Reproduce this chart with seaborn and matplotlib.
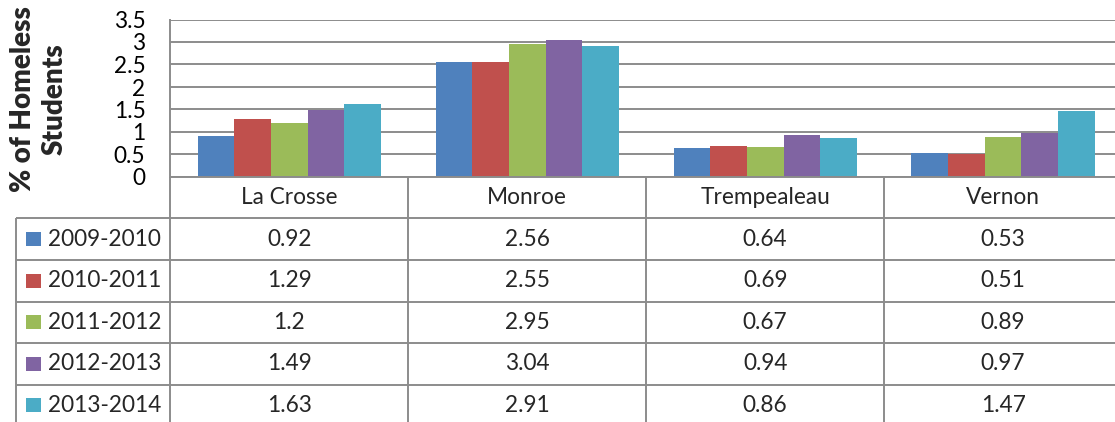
import numpy as np
import pandas as pd
import matplotlib
matplotlib.use("Agg")
import matplotlib.pyplot as plt
from matplotlib.ticker import MultipleLocator, FuncFormatter
import seaborn as sns

counties = ["La Crosse", "Monroe", "Trempealeau", "Vernon"]
years = ["2009-2010", "2010-2011", "2011-2012", "2012-2013", "2013-2014"]
pct_2009_2010 = [0.92, 2.56, 0.64, 0.53]
pct_2010_2011 = [1.29, 2.55, 0.69, 0.51]
pct_2011_2012 = [1.2, 2.95, 0.67, 0.89]
pct_2012_2013 = [1.49, 3.04, 0.94, 0.97]
pct_2013_2014 = [1.63, 2.91, 0.86, 1.47]
value_labels = [
    ["0.92", "2.56", "0.64", "0.53"],
    ["1.29", "2.55", "0.69", "0.51"],
    ["1.2", "2.95", "0.67", "0.89"],
    ["1.49", "3.04", "0.94", "0.97"],
    ["1.63", "2.91", "0.86", "1.47"],
]
colors = ["#4F81BD", "#C0504D", "#9BBB59", "#8064A2", "#4BACC6"]

series = [pct_2009_2010, pct_2010_2011, pct_2011_2012, pct_2012_2013, pct_2013_2014]
df = pd.DataFrame(
    [(c, y, v) for y, vals in zip(years, series) for c, v in zip(counties, vals)],
    columns=["County", "Year", "Pct"],
)

sns.set_theme(style="white")
plt.rcParams["font.family"] = ["Lato", "DejaVu Sans"]

W, H = 1115, 422
grid_col = "#8c8c8c"
fs = 16.3

fig = plt.figure(figsize=(W / 100, H / 100), dpi=100)

# plot area (right side runs off the picture, like the original crop)
ax = fig.add_axes([170.5 / W, (H - 177) / H, (1122 - 170.5) / W, 157.5 / H])
sns.barplot(
    data=df, x="County", y="Pct", hue="Year", order=counties, hue_order=years,
    palette=colors, saturation=1, width=0.77, gap=0, linewidth=0, legend=False, ax=ax,
)
ax.set_xlim(-0.5, 3.5)
ax.set_ylim(0, 3.5)
ax.yaxis.set_major_locator(MultipleLocator(0.5))
ax.yaxis.set_major_formatter(FuncFormatter(lambda v, p: f"{v:g}"))
ax.grid(axis="y", color=grid_col, lw=1.4)
ax.grid(axis="x", visible=False)
ax.set_axisbelow(True)
for s in ["top", "right", "bottom"]:
    ax.spines[s].set_visible(False)
ax.spines["left"].set_color(grid_col)
ax.spines["left"].set_linewidth(1.4)
ax.set_xticks([])
ax.set_xlabel("")
ax.set_ylabel("")
ax.tick_params(axis="y", length=0, pad=18, labelsize=fs, labelcolor="black")

fig.text(39 / W, 1 - 99 / H, "% of Homeless\nStudents", rotation=90,
         ha="center", va="center", ma="center", fontsize=20, fontweight="heavy",
         linespacing=1.25)

# data table underneath
x_left = -0.5 - 154.5 / 238
tax = fig.add_axes([16 / W, (H - 426) / H, (1122 - 16) / W, 249 / H])
tax.set_xlim(x_left, 3.5)
tax.set_ylim(6, 0)
tax.axis("off")

tax.hlines(0, -0.5, 3.5, color=grid_col, lw=1.4, clip_on=False)
tax.hlines(range(1, 7), x_left, 3.5, color=grid_col, lw=1.4, clip_on=False)
tax.vlines([-0.5, 0.5, 1.5, 2.5], 0, 6, color=grid_col, lw=1.4, clip_on=False)
tax.vlines(x_left, 1, 6, color=grid_col, lw=1.4, clip_on=False)

for i, c in enumerate(counties):
    tax.text(i, 0.5, c, ha="center", va="center", fontsize=fs)

for r, (yr, col) in enumerate(zip(years, colors)):
    row_y = r + 1.5
    tax.add_patch(plt.Rectangle((x_left + 10 / 238, row_y - 7 / 41.5), 15 / 238, 14 / 41.5,
                                color=col, lw=0, clip_on=False))
    tax.text(x_left + 32 / 238, row_y, yr, ha="left", va="center", fontsize=fs)
    for i in range(len(counties)):
        tax.text(i, row_y, value_labels[r][i], ha="center", va="center", fontsize=fs)

fig.savefig("out.png", dpi=100)
